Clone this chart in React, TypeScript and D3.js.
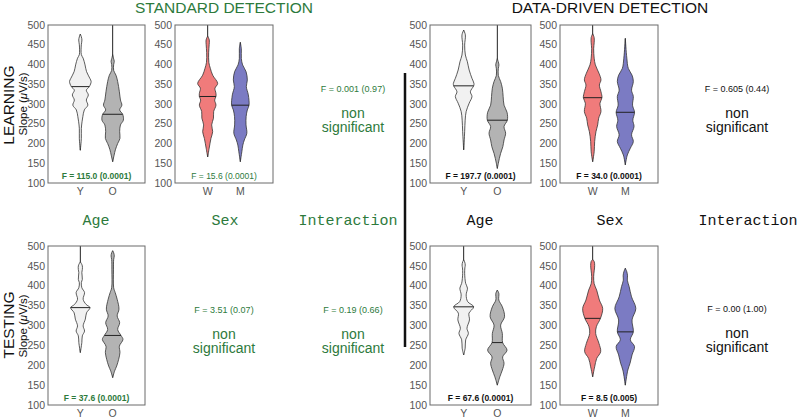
import React from 'react';
import * as d3 from 'd3';

type Prof = [number, number][];

const yTicks = [100, 150, 200, 250, 300, 350, 400, 450, 500];
const ageCats = ['Y', 'O'];
const sexCats = ['W', 'M'];

// density profiles: [slope, relative density]
const stdLearnY: Prof = [[183,0],[213,1],[238,1],[255,1.7],[268,2.5],[285,4],[297,7.5],[310,6],[323,8],[335,6],[344,9],[357,10.8],[365,9.5],[382,6.2],[399,4.7],[416,2.8],[425,1],[450,1],[462,1.6],[470,1],[477,0]];
const stdLearnO: Prof = [[154,0],[171,1.5],[184,2.7],[200,5],[213,7.3],[230,7],[247,7.8],[259,10.7],[274,10],[285,7],[297,9.2],[310,7.8],[331,6.7],[357,5],[373,3.3],[385,1],[400,1],[408,1.6],[416,0.8],[425,0]];
const stdLearnW: Prof = [[166,0],[188,1.5],[213,3.3],[230,5],[247,4],[264,5.8],[281,6],[297,8.3],[310,7],[319,8.3],[327,8.3],[340,7.3],[352,10],[373,5],[390,2.7],[405,1.2],[430,1],[450,1.5],[462,1.6],[472,0]];
const stdLearnM: Prof = [[154,0],[179,1.5],[196,2.5],[209,4],[226,6.5],[247,5.7],[268,5.8],[285,7],[297,8.7],[323,8],[344,6],[361,7],[382,5.7],[399,2.3],[415,1],[440,1],[456,0]];

const ddLearnY: Prof = [[184,0],[230,1],[259,1.5],[281,2.5],[302,5.5],[319,8.3],[331,6.7],[346,10],[352,10.3],[365,8.3],[386,5.5],[407,3.7],[424,1.7],[449,1],[475,1.7],[487,0]];
const ddLearnO: Prof = [[137,0],[150,1],[162,2],[175,3.3],[192,5.5],[209,6.7],[226,8.3],[243,6.7],[259,10],[279,9.7],[297,6.7],[319,5.8],[340,5],[357,3.3],[372,1],[390,1],[399,1.6],[408,0.8],[415,0]];
const ddLearnW: Prof = [[154,0],[179,1.5],[205,2],[230,3.3],[247,5],[264,6],[281,8.3],[302,7.3],[316,9.3],[331,8.3],[348,6.7],[361,8.3],[378,6.3],[399,2.7],[416,1.5],[440,1],[455,1.5],[468,1.5],[478,0]];
const ddLearnM: Prof = [[146,0],[171,2],[188,5],[205,8],[222,6.2],[243,8.7],[259,7.5],[279,9.2],[297,7.2],[319,8],[335,6.2],[357,8],[373,6.7],[390,3],[416,1.5],[466,0]];

const stdTestY: Prof = [[232,0],[257,1.5],[274,2],[286,4.2],[299,2.8],[316,5],[332,6.2],[345,9.7],[353,5.8],[366,2.8],[383,4.2],[395,1.5],[408,1],[416,2],[433,1.5],[441,2],[450,2],[456,1],[460,0]];
const stdTestO: Prof = [[169,0],[186,2],[198,4],[215,6],[232,7.3],[248,6.7],[265,10.3],[275,8.3],[290,5],[307,7],[324,4.5],[341,6.3],[366,4.5],[383,2.5],[395,1],[440,0.8],[466,1],[475,1.6],[483,1],[488,0]];

const ddTestY: Prof = [[226,0],[243,1.5],[264,2],[280,4.7],[293,3.3],[314,5.8],[331,5.3],[347,10],[360,4],[377,2.5],[394,3.8],[406,2],[431,1],[445,1.2],[452,1.6],[460,1],[465,0]];
const ddTestO: Prof = [[150,0],[171,2.5],[188,5],[205,6.7],[221,5.3],[238,9.7],[257,5.3],[280,5],[301,3.3],[322,7.2],[347,5],[364,1.5],[381,1.5],[389,0]];
const ddTestW: Prof = [[171,0],[196,2],[217,4],[234,8],[255,6.3],[280,3],[297,3.7],[318,7.8],[343,10],[364,6.7],[389,4],[405,1.5],[423,1],[451,2],[461,1.5],[466,0]];
const ddTestM: Prof = [[150,0],[188,2.5],[205,4.7],[226,6.7],[247,9.2],[264,5],[284,8],[314,6.7],[343,10.5],[372,6.2],[398,3.8],[414,2],[425,2.2],[435,1.5],[444,0]];

// medians
const stdLearnMed = [344, 274];
const stdLearnSexMed = [319, 297];
const ddLearnMed = [346, 259];
const ddLearnSexMed = [316, 279];
const stdTestMed = [345, 275];
const ddTestMed = [347, 257];
const ddTestSexMed = [318, 284];

// stems (min, max)
const stdLearnStem = [[183, 477], [154, 520]];
const stdLearnSexStem = [[166, 520], [154, 456]];
const ddLearnStem = [[184, 487], [137, 520]];
const ddLearnSexStem = [[154, 520], [146, 466]];
const stdTestStem = [[232, 520], [169, 488]];
const ddTestStem = [[226, 520], [150, 389]];
const ddTestSexStem = [[171, 520], [150, 444]];

const GREEN = '#2d7a3c';
const FILL: Record<string, string> = { Y: '#f1f1f1', O: '#b3b3b3', W: '#f07b7b', M: '#7b7bc3' };
const SANS = '"Liberation Sans", Arial, Helvetica, sans-serif';
const MONO = '"Liberation Mono", "DejaVu Sans Mono", monospace';

interface PanelDef {
  id: string; x0: number; x1: number; row: 0 | 1;
  cats: string[]; profs: Prof[]; meds: number[]; stems: number[][];
  fText: string; fColor: string; fBold: boolean;
}

const ROWS = [{ top: 25, bottom: 183 }, { top: 246, bottom: 405 }];

function halfAt(p: Prof, v: number) {
  for (let i = 0; i < p.length - 1; i++) {
    if (v >= p[i][0] && v <= p[i + 1][0]) {
      const t = (v - p[i][0]) / (p[i + 1][0] - p[i][0]);
      return p[i][1] + t * (p[i + 1][1] - p[i][1]);
    }
  }
  return 0;
}

function Panel({ d }: { d: PanelDef }) {
  const r = ROWS[d.row];
  const y = d3.scaleLinear().domain([100, 500]).range([r.bottom, r.top]);
  const x = d3.scalePoint<string>().domain(d.cats).range([d.x0, d.x1]).padding(1);
  const w = d3.scaleLinear().domain([0, 10]).range([0, 10]);
  const clipId = 'clip-' + d.id;
  return (
    <g>
      <defs>
        <clipPath id={clipId}>
          <rect x={d.x0} y={r.top} width={d.x1 - d.x0} height={r.bottom - r.top} />
        </clipPath>
      </defs>
      <g clipPath={`url(#${clipId})`}>
        {d.cats.map((c, i) => {
          const cx = x(c)!;
          const area = d3.area<[number, number]>()
            .y(p => y(p[0]))
            .x0(p => cx - w(p[1]))
            .x1(p => cx + w(p[1]))
            .curve(d3.curveCatmullRom.alpha(0.5));
          const hm = w(halfAt(d.profs[i], d.meds[i]));
          return (
            <g key={c}>
              <line x1={cx} x2={cx} y1={y(d.stems[i][0])} y2={y(d.stems[i][1])} stroke="#222" strokeWidth={1} />
              <path d={area(d.profs[i]) || ''} fill={FILL[c]} stroke="#333" strokeWidth={0.8} />
              <line x1={cx - hm} x2={cx + hm} y1={y(d.meds[i])} y2={y(d.meds[i])} stroke="#222" strokeWidth={1} />
            </g>
          );
        })}
      </g>
      <rect x={d.x0} y={r.top} width={d.x1 - d.x0} height={r.bottom - r.top} fill="none" stroke="#6a6a6a" strokeWidth={1} />
      {yTicks.map(t => (
        <text key={t} x={d.x0 - 3} y={y(t)} dy="0.35em" textAnchor="end" fontSize={10.5} fill="#555" fontFamily={SANS}>{t}</text>
      ))}
      {d.cats.map(c => (
        <text key={c} x={x(c)!} y={r.bottom + 12} textAnchor="middle" fontSize={10.5} fill="#555" fontFamily={SANS}>{c}</text>
      ))}
      <text x={(d.x0 + d.x1) / 2} y={r.bottom - 4} textAnchor="middle" fontSize={8.5} fontWeight={d.fBold ? 'bold' : 'normal'} fill={d.fColor} fontFamily={SANS}>{d.fText}</text>
    </g>
  );
}

function NonSig({ x, yF, f, color }: { x: number; yF: number; f: string; color: string }) {
  return (
    <g fontFamily={SANS} textAnchor="middle" fill={color}>
      <text x={x} y={yF} fontSize={9}>{f}</text>
      <text x={x} y={yF + 26} fontSize={14}>non</text>
      <text x={x} y={yF + 40} fontSize={14}>significant</text>
    </g>
  );
}

export default function App() {
  const panels: PanelDef[] = [
    { id: 'a', x0: 48, x1: 145, row: 0, cats: ageCats, profs: [stdLearnY, stdLearnO], meds: stdLearnMed, stems: stdLearnStem, fText: 'F = 115.0 (0.0001)', fColor: GREEN, fBold: true },
    { id: 'b', x0: 175, x1: 273, row: 0, cats: sexCats, profs: [stdLearnW, stdLearnM], meds: stdLearnSexMed, stems: stdLearnSexStem, fText: 'F = 15.6 (0.0001)', fColor: GREEN, fBold: false },
    { id: 'c', x0: 430, x1: 531, row: 0, cats: ageCats, profs: [ddLearnY, ddLearnO], meds: ddLearnMed, stems: ddLearnStem, fText: 'F = 197.7 (0.0001)', fColor: '#111', fBold: true },
    { id: 'd', x0: 560, x1: 658, row: 0, cats: sexCats, profs: [ddLearnW, ddLearnM], meds: ddLearnSexMed, stems: ddLearnSexStem, fText: 'F = 34.0 (0.0001)', fColor: '#111', fBold: true },
    { id: 'e', x0: 48, x1: 145, row: 1, cats: ageCats, profs: [stdTestY, stdTestO], meds: stdTestMed, stems: stdTestStem, fText: 'F = 37.6 (0.0001)', fColor: GREEN, fBold: true },
    { id: 'f', x0: 430, x1: 531, row: 1, cats: ageCats, profs: [ddTestY, ddTestO], meds: ddTestMed, stems: ddTestStem, fText: 'F = 67.6 (0.0001)', fColor: '#111', fBold: true },
    { id: 'g', x0: 560, x1: 658, row: 1, cats: sexCats, profs: [ddTestW, ddTestM], meds: ddTestSexMed, stems: ddTestSexStem, fText: 'F = 8.5 (0.005)', fColor: '#111', fBold: true },
  ];
  return (
    <svg width={800} height={417} style={{ position: 'absolute', left: 0, top: 0, background: '#fff' }}>
      <rect width={800} height={417} fill="#fff" />
      <text x={224} y={13} textAnchor="middle" fontSize={15.5} fill={GREEN} fontFamily={SANS}>STANDARD DETECTION</text>
      <text x={610} y={13} textAnchor="middle" fontSize={15.5} fill="#111" fontFamily={SANS}>DATA-DRIVEN DETECTION</text>

      <text transform="translate(14,105) rotate(-90)" textAnchor="middle" fontSize={15.5} fill="#111" fontFamily={SANS}>LEARNING</text>
      <text transform="translate(27,104) rotate(-90)" textAnchor="middle" fontSize={11.5} fill="#111" fontFamily={SANS}>Slope (<tspan fontStyle="italic">μ</tspan>V/s)</text>
      <text transform="translate(14,325) rotate(-90)" textAnchor="middle" fontSize={15.5} fill="#111" fontFamily={SANS}>TESTING</text>
      <text transform="translate(27,326) rotate(-90)" textAnchor="middle" fontSize={11.5} fill="#111" fontFamily={SANS}>Slope (<tspan fontStyle="italic">μ</tspan>V/s)</text>

      {panels.map(p => <Panel key={p.id} d={p} />)}

      <g fontFamily={MONO} fontSize={15} textAnchor="middle">
        <text x={96} y={225} fill={GREEN}>Age</text>
        <text x={225} y={225} fill={GREEN}>Sex</text>
        <text x={348} y={225} fill={GREEN}>Interaction</text>
        <text x={480} y={225} fill="#111">Age</text>
        <text x={610} y={225} fill="#111">Sex</text>
        <text x={748} y={225} fill="#111">Interaction</text>
      </g>

      <NonSig x={353} yF={92} f="F = 0.001 (0.97)" color={GREEN} />
      <NonSig x={224} yF={313} f="F = 3.51 (0.07)" color={GREEN} />
      <NonSig x={353} yF={313} f="F = 0.19 (0.66)" color={GREEN} />
      <NonSig x={737} yF={92} f="F = 0.605 (0.44)" color="#111" />
      <NonSig x={737} yF={312} f="F = 0.00 (1.00)" color="#111" />

      <line x1={405} x2={405} y1={73} y2={347} stroke="#111" strokeWidth={2.5} />
    </svg>
  );
}
